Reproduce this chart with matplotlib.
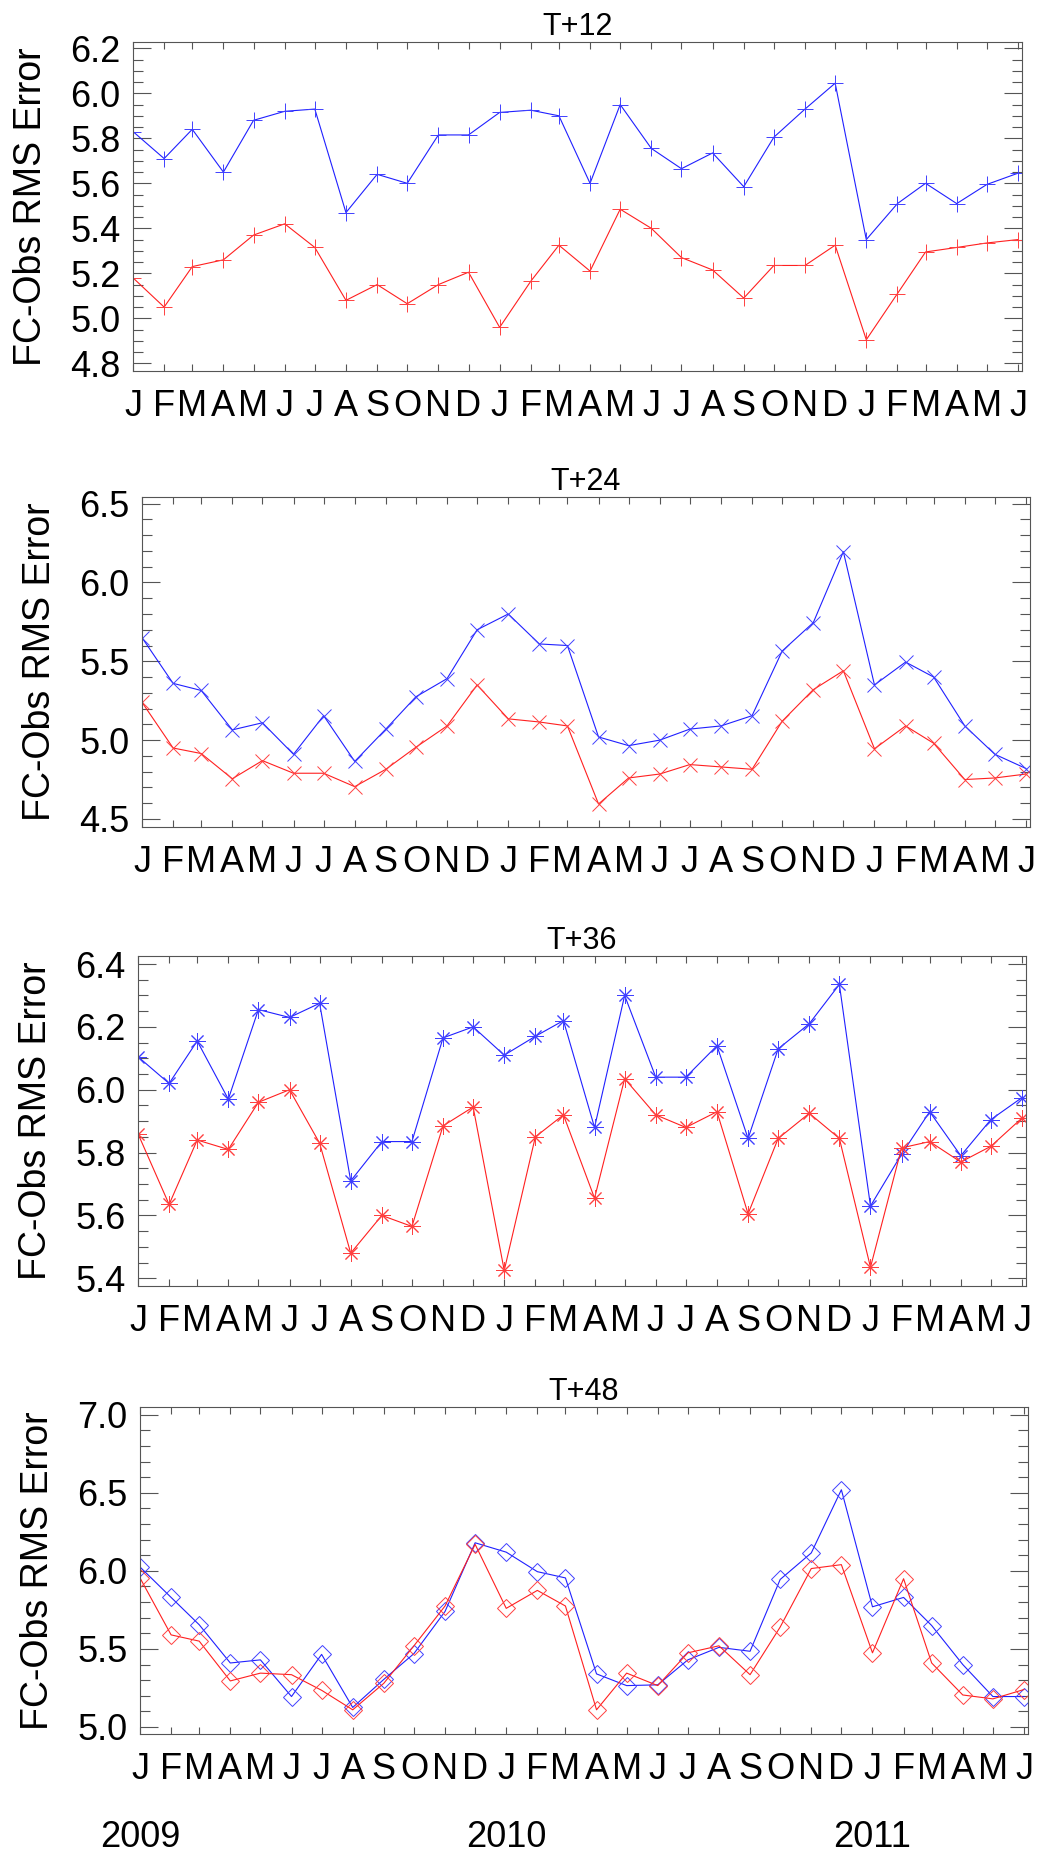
import numpy as np
import matplotlib
matplotlib.use("Agg")
import matplotlib.pyplot as plt
import matplotlib.transforms as mtransforms
from matplotlib.ticker import MultipleLocator, FormatStrFormatter

plt.rcParams['font.family'] = ['Liberation Sans', 'DejaVu Sans']

# monthly values, Jan 2009 .. Jun 2011
months = np.arange('2009-01', '2011-07', dtype='datetime64[M]')
month_letters = ['J', 'F', 'M', 'A', 'M', 'J', 'J', 'A', 'S', 'O', 'N', 'D'] * 2 + ['J', 'F', 'M', 'A', 'M', 'J']
years = ['2009', '2010', '2011']
titles = ['T+12', 'T+24', 'T+36', 'T+48']

t12_blue = [5.83, 5.71, 5.84, 5.65, 5.88, 5.92, 5.93, 5.47, 5.64, 5.60, 5.815, 5.815,
            5.915, 5.925, 5.90, 5.60, 5.95, 5.755, 5.665, 5.735, 5.585, 5.805, 5.93, 6.045,
            5.35, 5.51, 5.60, 5.51, 5.595, 5.645]
t12_red = [5.18, 5.05, 5.23, 5.26, 5.37, 5.42, 5.315, 5.08, 5.15, 5.065, 5.15, 5.205,
           4.96, 5.165, 5.325, 5.21, 5.485, 5.40, 5.27, 5.215, 5.09, 5.235, 5.235, 5.325,
           4.905, 5.11, 5.295, 5.315, 5.335, 5.35]

t24_blue = [5.65, 5.36, 5.315, 5.065, 5.11, 4.91, 5.155, 4.865, 5.07, 5.275, 5.39, 5.70,
            5.80, 5.61, 5.60, 5.02, 4.965, 5.00, 5.07, 5.09, 5.155, 5.565, 5.745, 6.195,
            5.35, 5.495, 5.40, 5.09, 4.91, 4.82]
t24_red = [5.24, 4.95, 4.915, 4.755, 4.87, 4.79, 4.79, 4.705, 4.815, 4.955, 5.09, 5.35,
           5.135, 5.115, 5.09, 4.595, 4.76, 4.785, 4.845, 4.83, 4.815, 5.12, 5.32, 5.44,
           4.945, 5.09, 4.98, 4.75, 4.76, 4.785]

t36_blue = [6.105, 6.02, 6.155, 5.97, 6.255, 6.23, 6.275, 5.71, 5.835, 5.835, 6.165, 6.20,
            6.11, 6.17, 6.22, 5.88, 6.30, 6.04, 6.04, 6.14, 5.845, 6.13, 6.21, 6.335,
            5.63, 5.795, 5.93, 5.79, 5.905, 5.975]
t36_red = [5.86, 5.635, 5.84, 5.81, 5.96, 6.00, 5.83, 5.48, 5.60, 5.565, 5.885, 5.945,
           5.425, 5.85, 5.92, 5.655, 6.035, 5.92, 5.88, 5.93, 5.605, 5.845, 5.925, 5.845,
           5.435, 5.815, 5.835, 5.77, 5.82, 5.91]

t48_blue = [6.025, 5.83, 5.655, 5.41, 5.43, 5.195, 5.465, 5.125, 5.305, 5.47, 5.74, 6.18,
            6.12, 5.995, 5.955, 5.34, 5.265, 5.27, 5.43, 5.51, 5.485, 5.945, 6.115, 6.52,
            5.77, 5.83, 5.65, 5.40, 5.195, 5.195]
t48_red = [5.955, 5.59, 5.55, 5.295, 5.345, 5.335, 5.235, 5.11, 5.28, 5.52, 5.775, 6.17,
           5.76, 5.875, 5.775, 5.11, 5.345, 5.265, 5.475, 5.52, 5.335, 5.64, 6.015, 6.04,
           5.475, 5.95, 5.41, 5.205, 5.18, 5.24]

series = [(t12_blue, t12_red), (t24_blue, t24_red), (t36_blue, t36_red), (t48_blue, t48_red)]

# days since 1 Jan 2009 for each month start
days = (months.astype('datetime64[D]') - np.datetime64('2009-01-01', 'D')).astype(int)

W, H = 1045, 1859
# panel boxes in pixels: left, top, right, bottom
boxes = [(133, 42, 1022, 371), (142, 497, 1030, 827), (138, 956, 1026, 1286), (140, 1407, 1028, 1734)]
ylims = [(4.766, 6.228), (4.449, 6.542), (5.3755, 6.4255), (4.955, 7.05)]
steps = [(0.2, 0.05), (0.5, 0.1), (0.2, 0.05), (0.5, 0.1)]
markers = ['+', 'x', (8, 2, 0), 'D']
msizes = [11, 10, 12, 9]

axis_col = '#555555'

fig = plt.figure(figsize=(W / 100, H / 100), dpi=100)

for i in range(4):
    l, t, r, b = boxes[i]
    ax = fig.add_axes([l / W, 1 - b / H, (r - l) / W, (b - t) / H])
    blue, red = series[i]
    ms = msizes[i]
    ax.plot(days, blue, color='#2020ff', lw=0.8, marker=markers[i], ms=ms, mew=0.7,
            mfc='none', mec='#4040ff')
    ax.plot(days, red, color='#ff2020', lw=0.8, marker=markers[i], ms=ms, mew=0.7,
            mfc='none', mec='#ff4040')

    ax.set_xlim(0, 885)
    ax.set_ylim(*ylims[i])
    ax.set_xticks(days)
    ax.set_xticklabels(month_letters)
    ax.yaxis.set_major_locator(MultipleLocator(steps[i][0]))
    ax.yaxis.set_minor_locator(MultipleLocator(steps[i][1]))
    ax.yaxis.set_major_formatter(FormatStrFormatter('%.1f'))

    ax.tick_params(axis='x', which='major', direction='in', length=5, width=0.8,
                   color=axis_col, top=True, labelsize=26, pad=13)
    ax.tick_params(axis='y', which='major', direction='in', length=13, width=0.8,
                   color=axis_col, right=True, labelsize=26, pad=9)
    ax.tick_params(axis='y', which='minor', direction='in', length=7, width=0.8,
                   color=axis_col, right=True)
    for sp in ax.spines.values():
        sp.set_color(axis_col)
        sp.set_linewidth(0.8)

    ax.set_title(titles[i], fontsize=22, pad=5)
    ax.set_ylabel('FC-Obs RMS Error', fontsize=27)
    ax.yaxis.set_label_coords(-84 / (r - l), 0.5)

# year labels under the bottom panel, at each January
trans = mtransforms.blended_transform_factory(ax.transData, fig.transFigure)
for k, yr in enumerate(years):
    ax.text(days[12 * k], 12 / H, yr, transform=trans, ha='center', va='baseline', fontsize=26)

fig.savefig('out.png', dpi=100)
